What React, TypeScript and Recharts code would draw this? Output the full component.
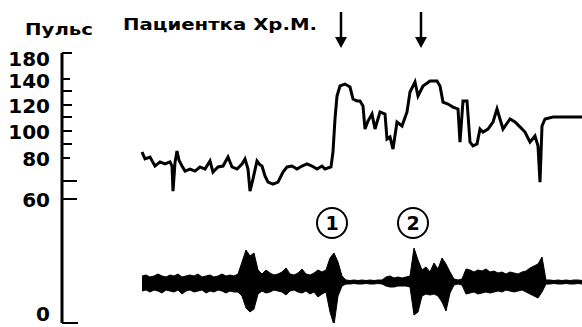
import { ComposedChart, Line, Area, XAxis, YAxis, ReferenceDot } from 'recharts';

// pulse axis: tick values, their labels and where they sit on the (hand drawn, non-linear) scale
const pulseTicks = [0, 60, 70, 80, 90, 100, 110, 120, 130, 140, 180];
const pulseTickLabels = ['0', '60', '', '80', '', '100', '', '120', '', '140', '180'];
const pulseTickLen = [16, 15, 15, 8, 10, 10, 10, 10, 10, 8, 10];
const labelShift = [-9, 1, 0, 1, 0, 1, 0, 1, 0, 2, 6];
const scaleAnchors = [0, 124, 142, 165, 179, 192, 206, 218, 232, 244, 270];

// pulse trace (time in px along the recording, beats per minute)
const pulseTime = [
  142, 145, 150, 155, 160, 165, 170, 172, 173, 175, 177, 179, 182, 185, 190, 195, 200, 205, 210, 213,
  218, 223, 228, 232, 237, 242, 245, 248, 250, 253, 257, 260, 262, 265, 268, 273, 278, 283, 287, 292,
  297, 302, 307, 312, 317, 322, 325, 331, 333, 335, 337, 340, 345, 350, 353, 357, 360, 363, 365, 368,
  372, 375, 380, 385, 387, 390, 393, 397, 402, 407, 410, 415, 418, 423, 430, 437, 440, 443, 448, 453,
  458, 460, 463, 467, 470, 473, 477, 480, 483, 488, 493, 497, 500, 503, 510, 515, 520, 525, 530, 535,
  538, 540, 542, 545, 553, 582,
];
const pulseBpm = [
  84.3, 79.6, 80.7, 76.5, 78.3, 77.4, 78.3, 76.5, 64.4, 78, 85, 79, 76.5, 74.3, 75.2, 74.3, 76.1, 75.2, 78.7, 73.9,
  76.1, 76.5, 80.7, 76.1, 75.2, 77.4, 79.6, 75.2, 64.4, 70.9, 78.7, 77, 76.5, 72.2, 69.4, 68.3, 69.4, 73.9, 76.1, 76.5,
  75.2, 76.5, 77.4, 76.5, 75.2, 76.5, 75.2, 76.1, 84.3, 108.6, 126.4, 134.2, 135.8, 133.3, 124.3, 122.9, 122.9, 119.2, 101.4, 107.1,
  112.5, 101.4, 114.2, 112.5, 93.8, 95.4, 86.4, 106.4, 103.6, 114.2, 129.3, 137.5, 126.4, 134.2, 138.3, 138.3, 134.2, 122.1, 120.7, 118.3,
  116.7, 91.5, 122.9, 122.9, 91.5, 88.6, 90, 101.4, 99.2, 101.4, 106.4, 116.7, 108.6, 101.4, 108.6, 106.4, 102.9, 99.2, 91.5, 96.2,
  88.6, 69.4, 103.6, 108.6, 110, 110,
];

// lower trace (motor activity), upper / lower envelope, sampled every 4 px from 142
const emgStart = 142;
const emgStep = 4;
const emgUpper = [
  6, 7, 5, 6, 8, 6, 5, 7, 6, 8, 5, 6, 7, 6, 8, 5, 6, 7, 5, 6, 8, 6, 7, 6,
  8, 20, 32, 26, 29, 12,
  8, 12, 9, 7, 8, 10, 14, 8, 7, 9, 13, 8, 7, 9, 12, 10, 12,
  24, 29, 20, 6,
  2, 1.5, 2, 1.5, 2, 1.5, 2, 1.5, 2, 2,
  5, 6, 4, 5,
  4, 5, 6,
  34, 22,
  12, 15, 10, 19, 13, 24, 18, 10,
  3, 2, 3,
  13, 12, 10, 12, 11, 13, 10, 11,
  9, 10, 8, 10, 9, 8, 10, 11,
  14, 16, 18, 25,
  2, 2, 1.5, 2, 1.5, 2, 1.5, 2, 2, 1.5,
];
const emgLower = [
  -9, -8, -10, -8, -9, -11, -8, -9, -10, -8, -12, -9, -8, -10, -9, -8, -11, -9, -10, -8, -9, -11, -9, -10,
  -10, -14, -26, -30, -27, -12,
  -9, -11, -10, -8, -9, -10, -13, -9, -8, -10, -11, -9, -12, -10, -15, -12, -10,
  -30, -43, -14, -4,
  -2, -2, -1.5, -2, -2, -1.5, -2, -2, -1.5, -2,
  -4, -5, -5, -4,
  -4, -4, -5,
  -33, -30,
  -14, -12, -13, -12, -14, -20, -29, -11,
  -3, -2, -3,
  -12, -11, -10, -12, -11, -10, -11, -10,
  -9, -10, -8, -9, -10, -9, -8, -10,
  -12, -14, -16, -10,
  -2, -2, -1.5, -2, -2, -1.5, -2, -2, -1.5, -2,
];

// events
const arrowTimes = [341, 421];
const markTimes = [332, 413];
const markLabels = ['1', '2'];

const warp = (p: number) => {
  for (let i = 1; i < pulseTicks.length; i++) {
    if (p <= pulseTicks[i]) {
      const a = pulseTicks[i - 1], b = pulseTicks[i];
      return scaleAnchors[i - 1] + ((p - a) / (b - a)) * (scaleAnchors[i] - scaleAnchors[i - 1]);
    }
  }
  return scaleAnchors[scaleAnchors.length - 1];
};

const pulseData = pulseTime.map((t, i) => ({ t, bpm: pulseBpm[i] }));
const emgData = emgUpper.map((u, i) => ({ t: emgStart + i * emgStep, range: [emgLower[i], u] }));

const FONT = "'DejaVu Sans', sans-serif";

function PulseTick(props: any) {
  const { x, y, payload } = props;
  const i = scaleAnchors.indexOf(payload.value);
  const label = pulseTickLabels[i];
  return (
    <g>
      <line x1={x} y1={y} x2={x + pulseTickLen[i]} y2={y} stroke="#000" strokeWidth={2} />
      {label && (
        <text x={x - 12} y={y + 7 + labelShift[i]} textAnchor="end" fontFamily={FONT} fontWeight="bold" fontSize={20} fill="#000">
          {label}
        </text>
      )}
    </g>
  );
}

const Arrow = (props: any) => {
  const { cx, cy } = props;
  return (
    <g>
      <line x1={cx} y1={cy - 36} x2={cx} y2={cy - 8} stroke="#000" strokeWidth={2.5} />
      <polygon points={`${cx - 6},${cy - 11} ${cx + 6},${cy - 11} ${cx},${cy}`} fill="#000" />
    </g>
  );
};

const Mark = (label: string) => (props: any) => {
  const { cx, cy } = props;
  return (
    <g>
      <circle cx={cx} cy={cy} r={15} fill="#fff" stroke="#000" strokeWidth={2} />
      <text x={cx} y={cy + 7} textAnchor="middle" fontFamily={FONT} fontWeight="bold" fontSize={19} fill="#000">
        {label}
      </text>
    </g>
  );
};

export default function App() {
  return (
    <div style={{ position: 'absolute', left: 0, top: 0, width: 582, height: 327, background: '#fff' }}>
      <ComposedChart width={582} height={327} margin={{ top: 53, right: 0, bottom: 4, left: 0 }}>
        <XAxis type="number" dataKey="t" domain={[62, 582]} hide allowDataOverflow />
        <YAxis
          yAxisId="pulse"
          orientation="left"
          type="number"
          width={62}
          domain={[0, 270]}
          ticks={scaleAnchors}
          interval={0}
          tickSize={0}
          tickMargin={0}
          tickLine={false}
          axisLine={{ stroke: '#000', strokeWidth: 3 }}
          tick={<PulseTick />}
          allowDataOverflow
        />
        <YAxis yAxisId="emg" orientation="right" type="number" domain={[-41, 229]} hide allowDataOverflow />
        <Area
          yAxisId="emg"
          data={emgData}
          dataKey="range"
          type="linear"
          stroke="#000"
          strokeWidth={1}
          fill="#000"
          fillOpacity={1}
          dot={false}
          activeDot={false}
          isAnimationActive={false}
        />
        <Line
          yAxisId="pulse"
          data={pulseData}
          dataKey={(d: any) => warp(d.bpm)}
          type="linear"
          stroke="#000"
          strokeWidth={3}
          dot={false}
          activeDot={false}
          isAnimationActive={false}
        />
        {arrowTimes.map((t) => (
          <ReferenceDot key={t} yAxisId="pulse" x={t} y={275} ifOverflow="visible" shape={Arrow} />
        ))}
        {markTimes.map((t, i) => (
          <ReferenceDot key={t} yAxisId="pulse" x={t} y={100} ifOverflow="visible" shape={Mark(markLabels[i])} />
        ))}
        <text x={25} y={35} textLength={68} lengthAdjust="spacingAndGlyphs" fontFamily={FONT} fontWeight="bold" fontSize={16} fill="#000">
          Пульс
        </text>
        <text x={123} y={30} textLength={194} lengthAdjust="spacingAndGlyphs" fontFamily={FONT} fontWeight="bold" fontSize={16} fill="#000">
          Пациентка Хр.М.
        </text>
      </ComposedChart>
    </div>
  );
}
